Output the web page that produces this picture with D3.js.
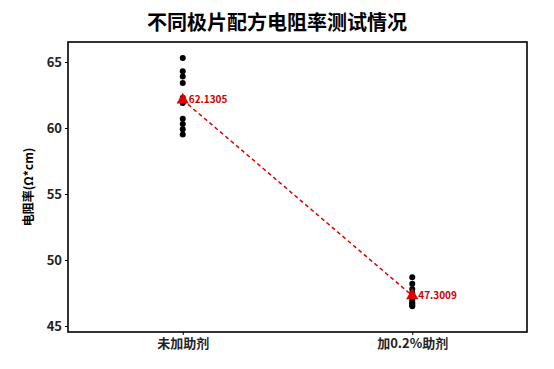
<!DOCTYPE html>
<html>
<head>
<meta charset="utf-8">
<script src="https://cdn.jsdelivr.net/npm/d3@7"></script>
<style>
  body { margin: 0; background: #fff; }
  text { font-family: "Noto Sans CJK SC", "Noto Sans", sans-serif; }
</style>
</head>
<body>
<svg id="chart"></svg>
<script>
const width = 554;
const height = 369;

// data
const groups = ['未加助剂', '加0.2%助剂'];
const valuesNone = [65.3, 64.3, 63.9, 63.4, 62.3, 61.9, 60.7, 60.3, 59.9, 59.5];
const valuesAdd = [48.7, 48.2, 47.8, 47.5, 47.2, 47.0, 46.8, 46.7, 46.6, 46.5];
const means = [62.1305, 47.3009];
const yTicks = [45, 50, 55, 60, 65];

const margin = { top: 42, right: 27, bottom: 37, left: 68 };

const svg = d3.select('#chart')
    .attr('width', width)
    .attr('height', height);

const x = d3.scalePoint()
    .domain(groups)
    .range([margin.left, width - margin.right])
    .padding(0.5);

const y = d3.scaleLinear()
    .domain([45, 65])
    .range([326, 62]);

// title
svg.append('text')
    .attr('x', 277)
    .attr('y', 30)
    .attr('text-anchor', 'middle')
    .style('font-size', '20px')
    .style('font-weight', 'bold')
    .text('不同极片配方电阻率测试情况');

// axes
const yAxis = svg.append('g')
    .attr('transform', `translate(${margin.left},0)`)
    .call(d3.axisLeft(y).tickValues(yTicks).tickSize(3).tickPadding(3));
yAxis.select('.domain').remove();
yAxis.selectAll('text')
    .style('font-size', '13px')
    .style('font-weight', 'bold')
    .attr('fill', '#222');

const xAxis = svg.append('g')
    .attr('transform', `translate(0,${height - margin.bottom})`)
    .call(d3.axisBottom(x).tickSize(3).tickPadding(4));
xAxis.select('.domain').remove();
xAxis.selectAll('text')
    .style('font-size', '13px')
    .style('font-weight', 'bold')
    .attr('fill', '#222');

// panel frame
svg.append('rect')
    .attr('x', margin.left)
    .attr('y', margin.top)
    .attr('width', width - margin.left - margin.right)
    .attr('height', height - margin.top - margin.bottom)
    .attr('fill', 'none')
    .attr('stroke', '#000')
    .attr('stroke-width', 1.6);

// y label
svg.append('text')
    .attr('transform', `translate(33,${(margin.top + height - margin.bottom) / 2}) rotate(-90)`)
    .attr('text-anchor', 'middle')
    .style('font-size', '12px')
    .style('font-weight', 'bold')
    .text('电阻率(Ω*cm)');

// points
const pts = [];
valuesNone.forEach(v => pts.push({ g: groups[0], v }));
valuesAdd.forEach(v => pts.push({ g: groups[1], v }));

svg.append('g').selectAll('circle')
    .data(pts)
    .enter().append('circle')
    .attr('cx', d => x(d.g))
    .attr('cy', d => y(d.v))
    .attr('r', 3)
    .attr('fill', '#000');

// mean line
const meanData = groups.map((g, i) => ({ g, v: means[i] }));
svg.append('path')
    .datum(meanData)
    .attr('d', d3.line().x(d => x(d.g)).y(d => y(d.v)))
    .attr('fill', 'none')
    .attr('stroke', '#e00000')
    .attr('stroke-width', 1.5)
    .attr('stroke-dasharray', '4,3');

svg.append('g').selectAll('path')
    .data(meanData)
    .enter().append('path')
    .attr('d', d3.symbol().type(d3.symbolTriangle).size(65))
    .attr('transform', d => `translate(${x(d.g)},${y(d.v)})`)
    .attr('fill', '#e00000');

svg.append('g').selectAll('text')
    .data(meanData)
    .enter().append('text')
    .attr('x', d => x(d.g) + 6)
    .attr('y', d => y(d.v) + 3.5)
    .style('font-size', '10px')
    .style('font-weight', 'bold')
    .attr('fill', '#d00000')
    .text(d => d.v.toFixed(4));
</script>
</body>
</html>
